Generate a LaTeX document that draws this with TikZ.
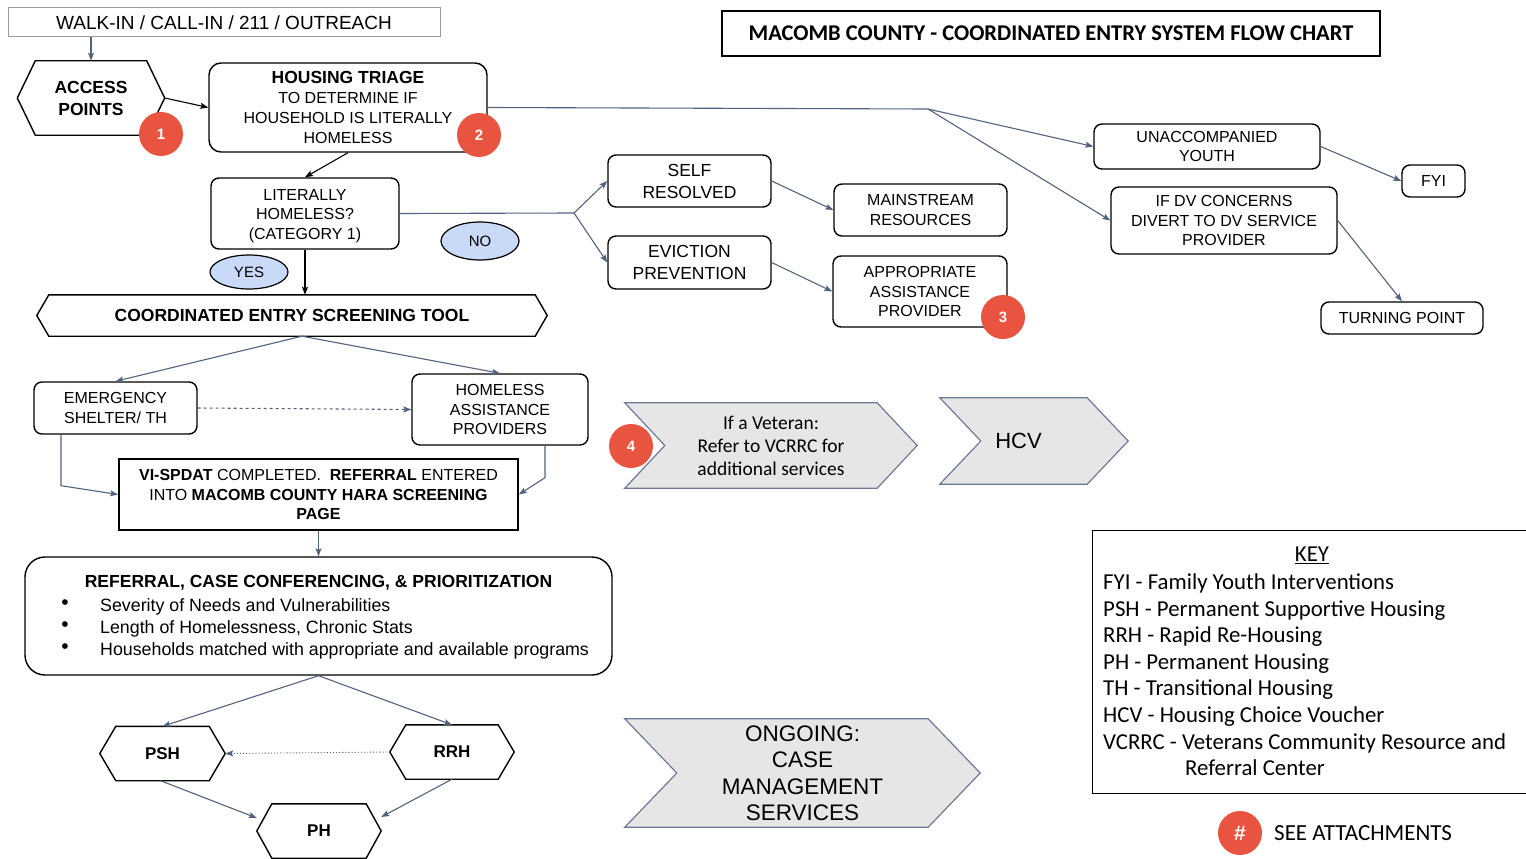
\documentclass[tikz,border=0pt]{standalone}
\usepackage{fontspec}
\setmainfont{Liberation Sans}
\newfontfamily\calfont{Carlito}
\usetikzlibrary{arrows.meta,shapes.geometric,backgrounds}
\definecolor{slate}{HTML}{52637F}
\definecolor{badgered}{HTML}{E8543F}
\definecolor{lblue}{HTML}{C9DAF8}
\definecolor{chevfill}{HTML}{E6E6E6}
\definecolor{chevline}{HTML}{6B7B96}
\definecolor{walkgray}{HTML}{9A9A9A}
\newcommand\fs[2]{\fontsize{#1}{#2}\selectfont}
\newcommand\hexo[2]{\draw[line width=1.4pt] ([xshift=#2]#1.north west) -- ([xshift=-#2]#1.north east) -- (#1.east) -- ([xshift=-#2]#1.south east) -- ([xshift=#2]#1.south west) -- (#1.west) -- cycle;}
\newcommand\chevo[2]{\draw[chevline, fill=chevfill, line width=1.2pt] (#1.north west) -- ([xshift=-#2]#1.north east) -- (#1.east) -- ([xshift=-#2]#1.south east) -- (#1.south west) -- ([xshift=#2]#1.west) -- cycle;}
\tikzset{
  box/.style={draw=black, line width=1.4pt, rounded corners=8pt, align=center, inner sep=2pt, font=\fs{16}{19.5}},
  plain/.style={align=center, inner sep=2pt},
  txt/.style={inner sep=0pt},
  oval/.style={ellipse, draw=black, line width=1.2pt, fill=lblue, font=\fs{15}{18}, inner sep=0pt},
  badge/.style={circle, fill=badgered, minimum size=44pt, inner sep=0pt, text=white, font=\bfseries\fs{15}{18}},
  arr/.style={-{Stealth[length=8pt,width=6pt,inset=1.5pt]}, line width=1.1pt, draw=slate},
  karr/.style={-{Stealth[length=8pt,width=6pt,inset=1.5pt]}, line width=1.1pt, draw=black},
  keytxt/.style={txt, anchor=base west, font=\calfont\fs{22.8}{26}},
  bul/.style={txt, font=\fs{21}{21}},
  reftxt/.style={txt, anchor=base west, font=\fs{17.8}{21}},
}
\begin{document}
\begin{tikzpicture}[x=1pt,y=-1pt]
\useasboundingbox (0,0) rectangle (1526,859);

% top-left
\node[plain, draw=walkgray, line width=1pt, minimum width=432pt, minimum height=29pt, font=\fs{19}{22}] (walk) at (224,22.5) {WALK-IN / CALL-IN / 211 / OUTREACH};
\node[plain, minimum width=147pt, minimum height=74pt, font=\bfseries\fs{17.5}{22}] (ap) at (91,98) {ACCESS\\POINTS};
\hexo{ap}{18}
\node[box, rounded corners=12pt, minimum width=278pt, minimum height=89pt, font=\fs{16}{19.8}] (triage) at (348,107.5) {{\bfseries\fs{17.5}{21}HOUSING TRIAGE}\\TO DETERMINE IF\\HOUSEHOLD IS LITERALLY\\HOMELESS};
\node[box, minimum width=188pt, minimum height=71pt] (lit) at (305,213.5) {\rule{0pt}{16pt}LITERALLY\\HOMELESS?\\(CATEGORY 1)};
\node[oval, minimum width=78pt, minimum height=34pt] (yes) at (249,272) {YES};
\node[oval, minimum width=78pt, minimum height=38pt] (no) at (480,241) {NO};

% title
\node[draw, line width=2.2pt, minimum width=658pt, minimum height=45pt, inner sep=0pt, font=\calfont\bfseries\fs{22.5}{26}] (title) at (1051,33.5) {MACOMB COUNTY - COORDINATED ENTRY SYSTEM FLOW CHART};

% not literally homeless branch
\node[box, minimum width=163pt, minimum height=52pt, font=\fs{17.5}{22}] (self) at (689.5,181) {SELF\\RESOLVED};
\node[box, minimum width=163pt, minimum height=53pt, font=\fs{17.5}{22}] (evict) at (689.5,262.5) {EVICTION\\PREVENTION};
\node[box, minimum width=173pt, minimum height=52pt] (main) at (920.5,210) {MAINSTREAM\\RESOURCES};
\node[box, minimum width=174pt, minimum height=71pt] (appr) at (920,291.5) {APPROPRIATE\\ASSISTANCE\\PROVIDER};

% right side
\node[box, minimum width=226pt, minimum height=45pt] (unacc) at (1207,146.5) {UNACCOMPANIED\\YOUTH};
\node[box, minimum width=226pt, minimum height=67pt] (dv) at (1224,220.5) {IF DV CONCERNS\\DIVERT TO DV SERVICE\\PROVIDER};
\node[box, minimum width=63pt, minimum height=32pt] (fyi) at (1433.5,181) {FYI};
\node[box, minimum width=162pt, minimum height=32pt] (tp) at (1402,318) {TURNING POINT};

% screening
\node[plain, minimum width=510pt, minimum height=41pt, font=\bfseries\fs{17.5}{21}] (screen) at (292,315.5) {COORDINATED ENTRY SCREENING TOOL};
\hexo{screen}{12}
\coordinate (sj) at ([xshift=10pt]screen.south);
\node[box, minimum width=163pt, minimum height=52pt] (es) at (115.5,408) {EMERGENCY\\SHELTER/ TH};
\node[box, minimum width=176pt, minimum height=71pt] (hap) at (500,409.5) {HOMELESS\\ASSISTANCE\\PROVIDERS};
\node[draw, line width=1.6pt, minimum width=399pt, minimum height=71pt, align=center, inner sep=2pt, font=\fs{16}{19.5}] (vi) at (318.5,494.5) {\textbf{VI-SPDAT} COMPLETED.\ \ \textbf{REFERRAL} ENTERED\\INTO \textbf{MACOMB COUNTY HARA SCREENING}\\\textbf{PAGE}};

% referral
\node[box, rounded corners=20pt, minimum width=587pt, minimum height=118pt] (ref) at (318.5,616) {};
\node[txt, font=\bfseries\fs{17.5}{21}] (reft) at (318.5,583) {REFERRAL, CASE CONFERENCING, \& PRIORITIZATION};
\node[bul] (d1) at (65,605) {\textbullet};
\node[bul] (d2) at (65,627) {\textbullet};
\node[bul] (d3) at (65,649) {\textbullet};
\node[reftxt] (r1) at (100,611) {Severity of Needs and Vulnerabilities};
\node[reftxt] (r2) at (100,633) {Length of Homelessness, Chronic Stats};
\node[reftxt] (r3) at (100,655) {Households matched with appropriate and available programs};

% housing types
\node[plain, minimum width=125pt, minimum height=54pt, font=\bfseries\fs{17}{20}] (psh) at (162.5,753.5) {PSH};
\hexo{psh}{16}
\node[plain, minimum width=124pt, minimum height=54pt, font=\bfseries\fs{17}{20}] (rrh) at (452,752) {RRH};
\hexo{rrh}{16}
\node[plain, minimum width=124pt, minimum height=54pt, font=\bfseries\fs{17}{20}] (ph) at (319,831) {PH};
\hexo{ph}{15}

% chevrons
\node[plain, minimum width=292pt, minimum height=85pt, font=\calfont\fs{19.5}{23}] (vet) at (771,445.5) {If a Veteran:\\Refer to VCRRC for\\additional services};
\node[plain, minimum width=188pt, minimum height=86pt] (hcv) at (1034,441) {};
\node[txt, font=\fs{22}{26}] (hcvt) at (1018.5,441) {HCV};
\node[plain, minimum width=355pt, minimum height=108pt, font=\fs{22.5}{26.5}] (ong) at (802.5,773) {ONGOING:\\CASE\\MANAGEMENT\\SERVICES};
\begin{scope}[on background layer]
\chevo{vet}{40}
\chevo{hcv}{41}
\chevo{ong}{52}
\end{scope}

% key
\node[draw, line width=1.2pt, minimum width=438pt, minimum height=263pt, anchor=north west, inner sep=0pt] (key) at (1092,530) {};
\node[txt, font=\calfont\fs{22.8}{26}] (keyh) at (1312,555) {\underline{KEY}};
\node[keytxt] (k1) at (1103,589) {FYI - Family Youth Interventions};
\node[keytxt] (k2) at (1103,616) {PSH - Permanent Supportive Housing};
\node[keytxt] (k3) at (1103,642) {RRH - Rapid Re-Housing};
\node[keytxt] (k4) at (1103,669) {PH - Permanent Housing};
\node[keytxt] (k5) at (1103,695) {TH - Transitional Housing};
\node[keytxt] (k6) at (1103,722) {HCV - Housing Choice Voucher};
\node[keytxt] (k7) at (1103,749) {VCRRC - Veterans Community Resource and};
\node[keytxt] (k8) at (1185,775) {Referral Center};

% badges
\node[badge] (b1) at (161,134) {1};
\node[badge] (b2) at (479,135) {2};
\node[badge] (b3) at (1003,317) {3};
\node[badge] (b4) at (631,446) {4};
\node[badge, font=\bfseries\fs{21}{24}] (bh) at (1240,833) {\#};
\node[txt, anchor=west, font=\calfont\fs{23}{26}] (see) at (1274,833) {SEE ATTACHMENTS};

% connectors
\draw[arr] (walk.south -| ap.north) -- (ap.north);
\draw[karr] (ap.east) -- (triage.west);
\draw[karr] (triage.south) -- (lit.north);
\draw[karr] (lit.south) -- (lit.south |- screen.north);
\coordinate (j1) at (574,213);
\draw[slate, line width=1.1pt] (lit.east) -- (j1);
\draw[arr] (j1) -- (self.west);
\draw[arr] (j1) -- (evict.west);
\draw[arr] (self.east) -- (main.west);
\draw[arr] (evict.east) -- (appr.west);
\coordinate (j2) at (928,109);
\draw[slate, line width=1.1pt] (triage.east) -- (j2);
\draw[arr] (j2) -- (unacc.west);
\draw[arr] (j2) -- (dv.west);
\draw[arr] (unacc.east) -- (fyi.west);
\draw[arr] (dv.east) -- (tp.north);
\draw[arr] (sj) -- (es.north);
\draw[arr] (sj) -- (hap.north);
\draw[arr, dashed] (es.east) -- (hap.west);
\draw[arr] ([xshift=-54.5pt]es.south) -- ++(0,51) -- (vi.west);
\draw[arr] ([xshift=45pt]hap.south) -- ++(0,32) -- (vi.east);
\draw[arr] (vi.south) -- (ref.north);
\draw[arr] (ref.south) -- (psh.north);
\draw[arr] (ref.south) -- (rrh.north);
\draw[arr, dotted, line width=0.9pt] (rrh.west) -- (psh.east);
\draw[arr] ([xshift=-2pt]psh.south) -- ([yshift=13pt]ph.west);
\draw[arr] (rrh.south) -- ([yshift=14pt]ph.east);
\end{tikzpicture}
\end{document}
